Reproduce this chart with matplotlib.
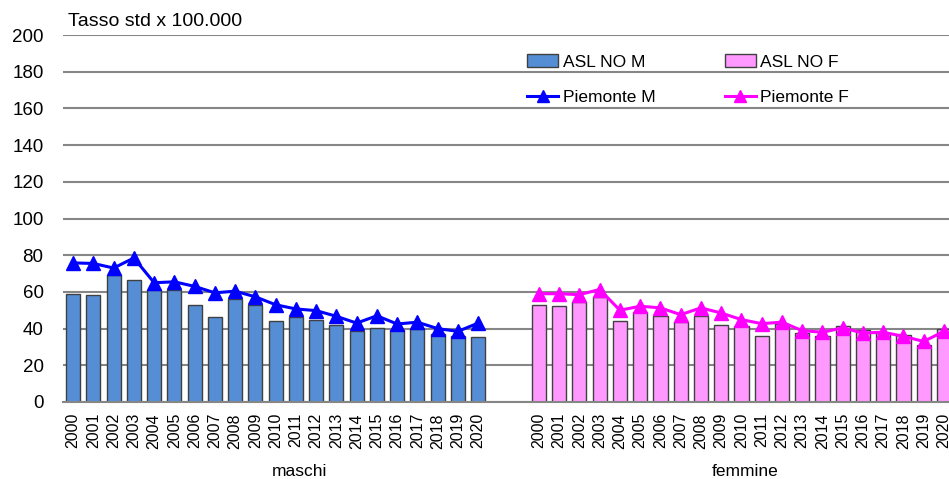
import numpy as np
import matplotlib
matplotlib.use('Agg')
import matplotlib.pyplot as plt
from matplotlib.lines import Line2D
from matplotlib.patches import Patch

plt.rcParams['font.family'] = ['Liberation Sans', 'DejaVu Sans']

# data
years = [str(y) for y in range(2000, 2021)]
asl_m = [59, 58.5, 69, 66.4, 61, 61.3, 53, 46.2, 56.2, 52.7, 44, 46.2, 44.6,
         41.8, 38.5, 40.5, 39.5, 40, 37.1, 35.8, 35.3]
piem_m = [75.8, 75.5, 73, 78.5, 65, 65.5, 63, 59.5, 60.4, 57.3, 53, 50.7, 49.8,
          46.7, 43, 47, 42.5, 43.5, 40, 38.5, 43]
asl_f = [53.1, 52.2, 54.5, 57.3, 44, 48.9, 46.7, 43.5, 47.1, 42.2, 41.3, 36.2,
         42.7, 37.6, 35.8, 41.6, 39, 37.6, 36.4, 31.3, 39.8]
piem_f = [59, 59, 58.5, 61.3, 50, 52.2, 51.3, 47.6, 51.3, 48.5, 44.9, 42.7,
          43.5, 38.9, 38, 40.4, 37.6, 38, 35.8, 33, 38.5]
group_labels = ['maschi', 'femmine']

# category slots: males 0..20, two empty slots, females 23..43
x_m = np.arange(len(years))
x_f = x_m + len(years) + 2

fig = plt.figure(figsize=(9.49, 4.79), dpi=100)
ax = fig.add_axes([63 / 949, 77 / 479, 1 - 63 / 949, 367 / 479])

grid_c = '#868686'
edge_c = '#404040'
ax.bar(x_m, asl_m, width=0.7, color='#558ED5', edgecolor=edge_c, linewidth=1.0, zorder=2)
ax.bar(x_f, asl_f, width=0.7, color='#FF99FF', edgecolor=edge_c, linewidth=1.0, zorder=2)
ax.plot(x_m, piem_m, color='#0000FF', lw=2.2, marker='^', ms=10.5, zorder=3)
ax.plot(x_f, piem_f, color='#FF00FF', lw=2.2, marker='^', ms=10.5, zorder=3)

ax.set_ylim(0, 200)
ax.set_yticks(range(0, 201, 20))
ax.set_xlim(-0.5, 43.25)
ax.yaxis.grid(True, color=grid_c, lw=1.5, zorder=0)
ax.set_axisbelow(True)
for s in ['top', 'right', 'left']:
    ax.spines[s].set_visible(False)
ax.spines['bottom'].set_color(grid_c)
ax.spines['bottom'].set_linewidth(1.5)

ax.set_xticks(np.concatenate([x_m, x_f]))
ax.set_xticklabels(years + years, rotation=90, fontsize=11.5)
ax.tick_params(axis='x', length=0, pad=8)
ax.tick_params(axis='y', length=0, pad=14, labelsize=13.5)

fig.text(68 / 949, 1 - 22 / 479, 'Tasso std x 100.000', fontsize=14, va='center', ha='left')

# group labels under the year labels
for xc, lab in zip([11.2, 33.2], group_labels):
    ax.text(xc, -(471.7 - 402) / 367, lab, transform=ax.get_xaxis_transform(),
            fontsize=12.5, ha='center', va='center')

handles = [Patch(facecolor='#558ED5', edgecolor=edge_c, lw=1.0),
           Line2D([], [], color='#0000FF', lw=2.2, marker='^', ms=9),
           Patch(facecolor='#FF99FF', edgecolor=edge_c, lw=1.0),
           Line2D([], [], color='#FF00FF', lw=2.2, marker='^', ms=9)]
labels = ['ASL NO M', 'Piemonte M', 'ASL NO F', 'Piemonte F']
fig.legend(handles, labels, ncol=2, frameon=False, fontsize=12.5,
           loc='upper left', bbox_to_anchor=(527 / 949, 1 - 54 / 479),
           borderpad=0, borderaxespad=0, handlelength=1.8, handleheight=0.8,
           handletextpad=0.25, columnspacing=4.0, labelspacing=1.15)

fig.savefig('out.png', dpi=100)
